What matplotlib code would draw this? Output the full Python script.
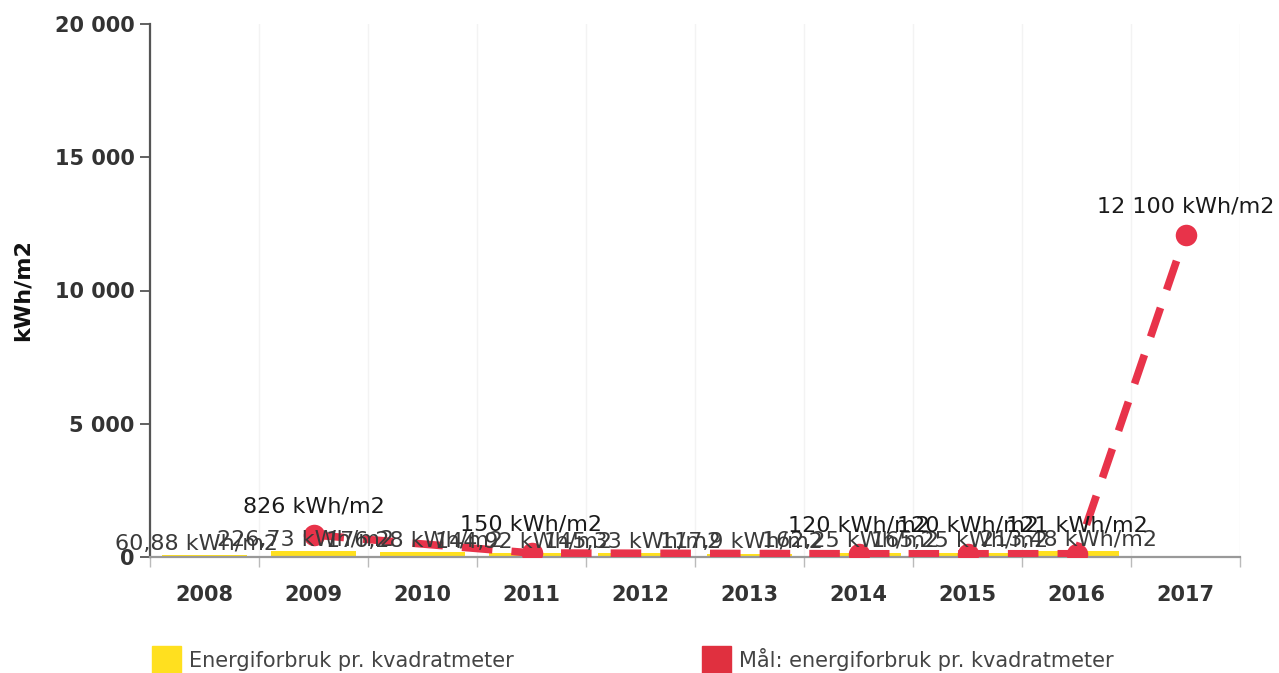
import numpy as np
import matplotlib
matplotlib.use("Agg")
import matplotlib.pyplot as plt
from matplotlib.patches import Patch

# --- data ---
years = ['2008', '2009', '2010', '2011', '2012', '2013', '2014', '2015', '2016', '2017']
energy = [60.88, 226.73, 176.28, 144.92, 145.33, 117.9, 162.25, 165.25, 213.48, np.nan]
target = [np.nan, 826, np.nan, 150, np.nan, np.nan, 120, 120, 121, 12100]

yticks = [0, 5000, 10000, 15000, 20000]

YELLOW = '#FFE01F'
RED = '#E8334A'
TXT = '#333333'


def fmt(v):
    if float(v).is_integer():
        return f"{int(v):,}".replace(',', ' ') + ' kWh/m2'
    return str(v).replace('.', ',') + ' kWh/m2'


fig = plt.figure(figsize=(12.79, 6.73), dpi=100)
ax = fig.add_axes([150 / 1279, 1 - 557 / 673, 1090 / 1279, 533 / 673])

x = np.arange(len(years))
energy = np.array(energy, dtype=float)
target = np.array(target, dtype=float)

# yellow columns
ax.bar(x, np.nan_to_num(energy), width=0.78, color=YELLOW, zorder=2)

# red target line (gaps bridged)
m = ~np.isnan(target)
ax.plot(x[m], target[m], color=RED, lw=5.5, dashes=(4, 2.5), zorder=3,
        solid_capstyle='butt', dash_capstyle='butt')
ax.plot(x[m], target[m], 'o', color=RED, markersize=15.5, zorder=4, markeredgewidth=0)

# data labels
for xi, v in zip(x, energy):
    if not np.isnan(v):
        ax.annotate(fmt(v), (xi, v), xytext=(-6, 1), textcoords='offset points',
                    ha='center', va='bottom', fontsize=16, color='#3a3a3a', zorder=5)
for xi, v in zip(x, target):
    if not np.isnan(v):
        ax.annotate(fmt(v), (xi, v), xytext=(0, 13), textcoords='offset points',
                    ha='center', va='bottom', fontsize=16, color='#1a1a1a', zorder=5)

ax.set_xlim(-0.5, len(years) - 0.5)
ax.set_ylim(0, 20000)

ax.set_yticks(yticks)
ax.set_yticklabels([f"{t:,}".replace(',', ' ') for t in yticks],
                   fontsize=15, fontweight='bold', color=TXT)
ax.tick_params(axis='y', length=7, width=1.3, color='#555555', pad=4)

ax.set_xticks(x)
ax.set_xticklabels(years, fontsize=15, fontweight='bold', color=TXT)
ax.set_xticks(np.arange(len(years) + 1) - 0.5, minor=True)
ax.tick_params(axis='x', which='major', length=0, pad=20)
ax.tick_params(axis='x', which='minor', length=7, width=1, color='#bbbbbb')
ax.grid(axis='x', which='minor', color='#f3f3f3', lw=1, zorder=0)

ax.set_ylabel('kWh/m2', fontsize=16, fontweight='bold', color='#111111', labelpad=16)

for s in ['top', 'right']:
    ax.spines[s].set_visible(False)
ax.spines['left'].set_color('#555555')
ax.spines['left'].set_linewidth(1.6)
ax.spines['bottom'].set_color('#999999')
ax.spines['bottom'].set_linewidth(1.6)

handles = [Patch(color=YELLOW, label='Energiforbruk pr. kvadratmeter'),
           Patch(color='#E0303F', label='Mål: energiforbruk pr. kvadratmeter')]
fig.legend(handles=handles, loc='lower left', bbox_to_anchor=(133 / 1279, -0.028),
           ncol=2, frameon=False, fontsize=15, handlelength=1.4, handleheight=1.6,
           handletextpad=0.4, columnspacing=9.0, labelcolor='#444444')

fig.savefig('out.png', dpi=100)
